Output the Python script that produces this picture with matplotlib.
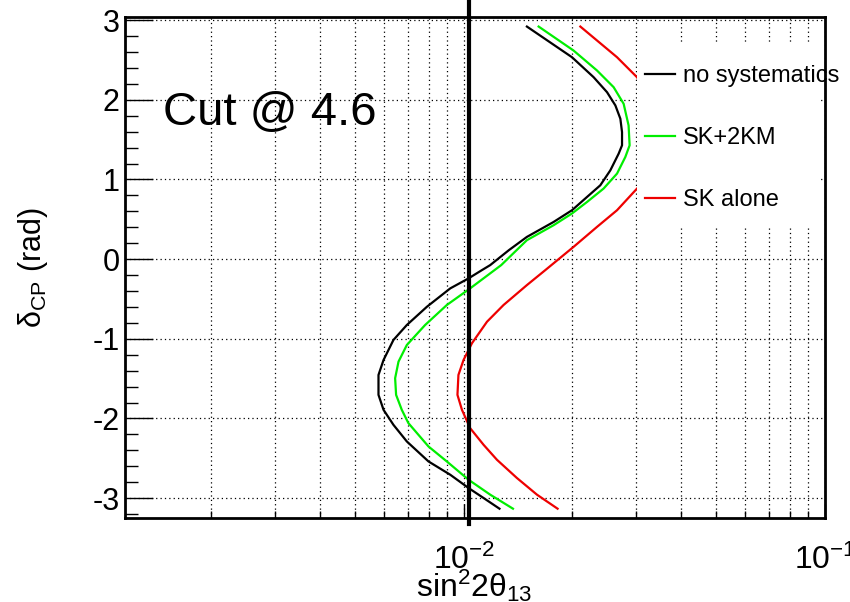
import matplotlib
matplotlib.use("Agg")
import matplotlib.pyplot as plt
from matplotlib.ticker import FixedLocator, NullFormatter
from matplotlib.patches import Rectangle

plt.rcParams['font.family'] = ['Liberation Sans', 'DejaVu Sans']
plt.rcParams['mathtext.fontset'] = 'custom'
plt.rcParams['mathtext.rm'] = 'Liberation Sans'
plt.rcParams['axes.unicode_minus'] = False

# 3 sigma contours, sin^2(2theta13) vs delta_CP
nosys_s2 = [0.01496, 0.01994, 0.02289, 0.02493, 0.02629, 0.02714, 0.02743, 0.02743,
            0.02685, 0.02546, 0.02388, 0.02195, 0.01994, 0.01774, 0.01496, 0.01334,
            0.01184, 0.01123, 0.01031, 0.00918, 0.00791, 0.00696, 0.00639, 0.00600,
            0.00581, 0.00581, 0.00600, 0.00639, 0.00696, 0.00799, 0.00918, 0.01031,
            0.01135, 0.01256]
nosys_dcp = [2.920, 2.535, 2.284, 2.096, 1.930, 1.763, 1.595, 1.429,
             1.325, 1.115, 0.927, 0.781, 0.614, 0.467, 0.279, 0.113,
             -0.075, -0.138, -0.242, -0.367, -0.598, -0.827, -1.015, -1.266,
             -1.454, -1.704, -1.892, -2.080, -2.289, -2.540, -2.707, -2.873,
             -2.999, -3.133]

sk2km_s2 = [0.01612, 0.02014, 0.02339, 0.02600, 0.02771, 0.02860, 0.02879, 0.02801,
            0.02657, 0.02439, 0.02195, 0.01994, 0.01774, 0.01496, 0.01270, 0.01042,
            0.00898, 0.00782, 0.00696, 0.00660, 0.00646, 0.00650, 0.00674, 0.00703,
            0.00799, 0.00898, 0.01031, 0.01184, 0.01369]
sk2km_dcp = [2.920, 2.619, 2.368, 2.159, 1.951, 1.679, 1.429, 1.282,
             1.074, 0.886, 0.718, 0.573, 0.426, 0.238, -0.075, -0.367,
             -0.576, -0.827, -1.078, -1.287, -1.495, -1.704, -1.892, -2.059,
             -2.352, -2.540, -2.769, -2.957, -3.133]

skalone_s2 = [0.02103, 0.02657, 0.03018, 0.0330, 0.0350, 0.0355, 0.0345, 0.0325,
              0.03018, 0.02657, 0.02339, 0.02014, 0.01682, 0.01496, 0.01289, 0.01160,
              0.01054, 0.00999, 0.00967, 0.00961, 0.00989, 0.01042, 0.01135, 0.01236,
              0.01404, 0.01595, 0.01819]
skalone_dcp = [2.920, 2.535, 2.284, 2.000, 1.750, 1.500, 1.250, 1.050,
               0.886, 0.614, 0.405, 0.154, -0.138, -0.326, -0.576, -0.786,
               -1.056, -1.266, -1.454, -1.704, -1.892, -2.122, -2.331, -2.519,
               -2.748, -2.957, -3.133]

chooz_limit = 0.01036
cut_text = "Cut @ 4.6"

fig = plt.figure(figsize=(8.5, 6.02), dpi=100)
ax = fig.add_axes([125/850, 84/602, 700/850, 501/602])

ax.set_xscale('log')
ax.set_xlim(1.155e-3, 0.1)
ax.set_ylim(-3.25, 3.04)

ax.xaxis.set_major_locator(FixedLocator([0.01, 0.1]))
ax.set_xticklabels([r'$\mathregular{10^{-2}}$', r'$\mathregular{10^{-1}}$'])
minors = [m * d for d in (1e-3, 1e-2) for m in range(2, 10)]
ax.xaxis.set_minor_locator(FixedLocator(minors))
ax.xaxis.set_minor_formatter(NullFormatter())
ax.yaxis.set_major_locator(FixedLocator([-3, -2, -1, 0, 1, 2, 3]))
ax.yaxis.set_minor_locator(FixedLocator([v / 5 for v in range(-16, 16)]))

ax.tick_params(axis='both', which='both', direction='in', width=1,
               top=False, right=False)
ax.tick_params(axis='y', which='major', length=20, pad=4, labelsize=22)
ax.tick_params(axis='y', which='minor', length=9.5)
ax.tick_params(axis='x', which='major', length=10, pad=19, labelsize=23)
ax.tick_params(axis='x', which='minor', length=5)

grid_style = dict(color='black', linestyle=(0, (1, 2.5)), linewidth=0.9)
ax.xaxis.grid(True, which='both', **grid_style)
ax.yaxis.grid(True, which='major', **grid_style)

for s in ax.spines.values():
    s.set_linewidth(2)

ax.plot(nosys_s2, nosys_dcp, color='black', lw=1.6, label='no systematics', zorder=3)
ax.plot(sk2km_s2, sk2km_dcp, color='#00ee00', lw=1.6, label='SK+2KM', zorder=3)
ax.plot(skalone_s2, skalone_dcp, color='#ee0000', lw=1.6, label='SK alone', zorder=3)

ax.plot([chooz_limit, chooz_limit], [-3.33, 3.26], color='black', lw=3,
        clip_on=False, zorder=4)

# white legend box (text overruns the box on the right)
ax.add_patch(Rectangle((0.731, 0.581), 0.993 - 0.731, 0.950 - 0.581,
                       transform=ax.transAxes, facecolor='white',
                       edgecolor='none', zorder=5))
leg = ax.legend(loc='upper left', bbox_to_anchor=(0.724, 0.930), frameon=False,
                fontsize=17, handlelength=1.3, handletextpad=0.3,
                labelspacing=1.7, borderpad=0.55, borderaxespad=0)
leg.set_zorder(6)

ax.text(0.054, 0.784, cut_text, transform=ax.transAxes, fontsize=34,
        ha='left', va='baseline', zorder=6)

ax.set_xlabel(r'$\mathregular{sin^{2}2θ_{13}}$', fontsize=23)
ax.xaxis.set_label_coords(0.499, -0.100)
ax.set_ylabel(r'$\mathregular{δ_{CP}}$ (rad)', fontsize=22)
ax.yaxis.set_label_coords(-0.107, 0.5)

fig.savefig('out.png', dpi=100)
